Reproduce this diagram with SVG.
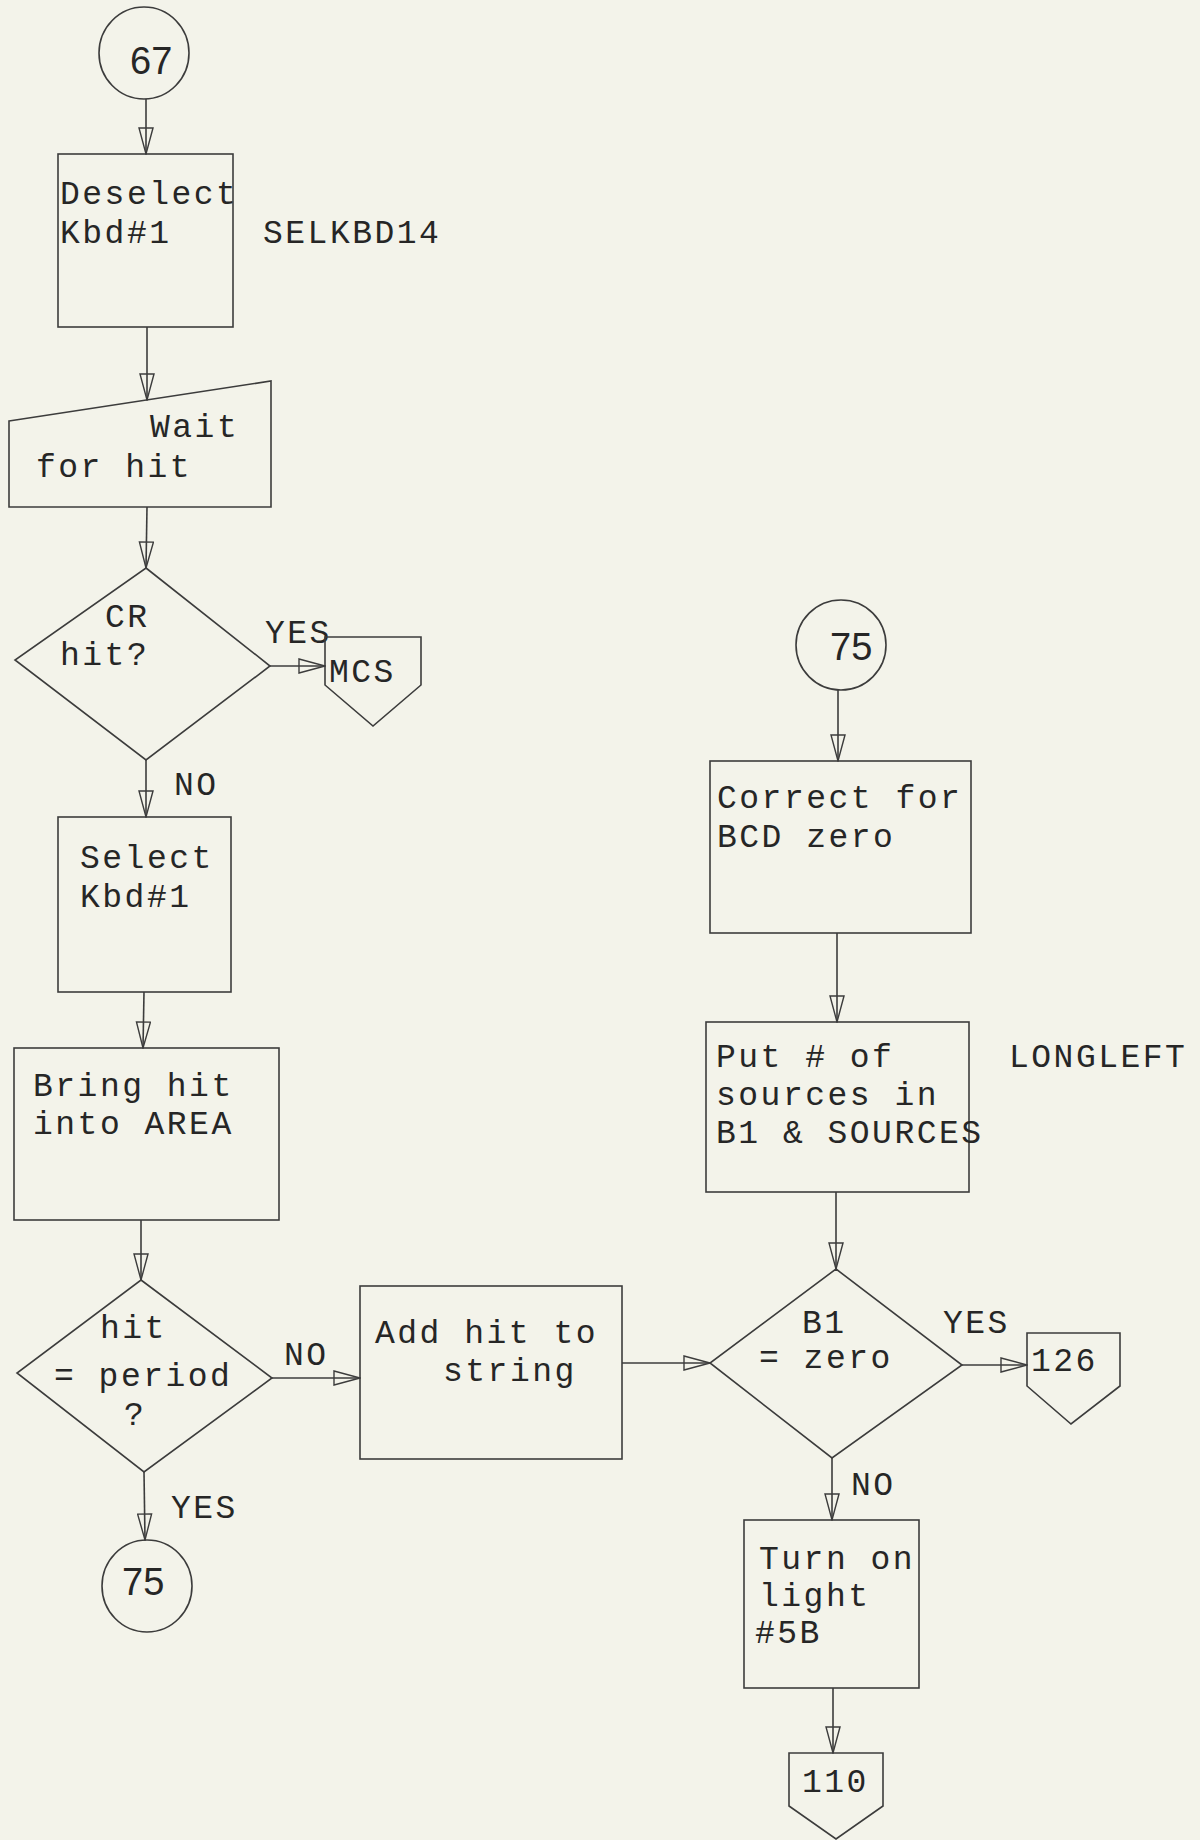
<svg xmlns="http://www.w3.org/2000/svg" width="1200" height="1840" viewBox="0 0 1200 1840">
<defs>
<style>
.shape{fill:none;stroke:#3c3c3c;stroke-width:1.6}
.conn{fill:none;stroke:#3c3c3c;stroke-width:1.6}
.t{font-family:"Liberation Mono","DejaVu Sans Mono",monospace;font-size:33px;letter-spacing:2.5px;fill:#262626}
.n{font-family:"Liberation Sans","Noto Sans",sans-serif;font-size:38px;fill:#262626}
</style>
<marker id="ah" viewBox="0 0 28 16" refX="27" refY="8" markerWidth="28" markerHeight="16" markerUnits="userSpaceOnUse" orient="auto">
<path d="M1,1 L27,8 L1,15 Z" fill="none" stroke="#3c3c3c" stroke-width="1.4"/>
</marker>
</defs>
<rect x="0" y="0" width="1200" height="1840" fill="#f3f3ea"/>

<g id="connectors">
<path class="conn" marker-end="url(#ah)" d="M146,99 L146,154"/>
<path class="conn" marker-end="url(#ah)" d="M147,327 L147,400"/>
<path class="conn" marker-end="url(#ah)" d="M147,507 L146,568"/>
<path class="conn" marker-end="url(#ah)" d="M270,666 L325,666"/>
<path class="conn" marker-end="url(#ah)" d="M146,760 L146,817"/>
<path class="conn" marker-end="url(#ah)" d="M144,992 L143,1048"/>
<path class="conn" marker-end="url(#ah)" d="M141,1220 L141,1280"/>
<path class="conn" marker-end="url(#ah)" d="M272,1378 L360,1378"/>
<path class="conn" marker-end="url(#ah)" d="M144,1472 L145,1540"/>
<path class="conn" marker-end="url(#ah)" d="M838,690 L838,761"/>
<path class="conn" marker-end="url(#ah)" d="M837,933 L837,1022"/>
<path class="conn" marker-end="url(#ah)" d="M836,1192 L836,1269"/>
<path class="conn" marker-end="url(#ah)" d="M622,1363 L710,1363"/>
<path class="conn" marker-end="url(#ah)" d="M962,1365 L1027,1365"/>
<path class="conn" marker-end="url(#ah)" d="M832,1458 L832,1520"/>
<path class="conn" marker-end="url(#ah)" d="M833,1688 L833,1753"/>
<text class="t" x="265" y="643">YES</text>
<text class="t" x="174" y="795">NO</text>
<text class="t" x="284" y="1365">NO</text>
<text class="t" x="171" y="1518">YES</text>
<text class="t" x="943" y="1333">YES</text>
<text class="t" x="851" y="1495">NO</text>
</g>

<g id="c67">
<ellipse class="shape" cx="144" cy="53" rx="45" ry="46"/>
<text class="n" x="130" y="74">67</text>
</g>

<g id="deselect">
<rect class="shape" x="58" y="154" width="175" height="173"/>
<text class="t" x="60" y="204">Deselect</text>
<text class="t" x="60" y="243">Kbd#1</text>
</g>
<text class="t" x="263" y="243">SELKBD14</text>

<g id="wait">
<path class="shape" d="M9,421 L271,381 L271,507 L9,507 Z"/>
<text class="t" x="150" y="437">Wait</text>
<text class="t" x="36" y="477">for hit</text>
</g>

<g id="crhit">
<path class="shape" d="M146,568 L270,666 L146,760 L15,660 Z"/>
<text class="t" x="105" y="627">CR</text>
<text class="t" x="60" y="665">hit?</text>
</g>

<g id="mcs">
<path class="shape" d="M325,637 L421,637 L421,685 L373,726 L325,685 Z"/>
<text class="t" x="329" y="682">MCS</text>
</g>

<g id="select">
<rect class="shape" x="58" y="817" width="173" height="175"/>
<text class="t" x="80" y="868">Select</text>
<text class="t" x="80" y="907">Kbd#1</text>
</g>

<g id="bring">
<rect class="shape" x="14" y="1048" width="265" height="172"/>
<text class="t" x="33" y="1096">Bring hit</text>
<text class="t" x="33" y="1134">into AREA</text>
</g>

<g id="period">
<path class="shape" d="M141,1280 L272,1378 L144,1472 L17,1373 Z"/>
<text class="t" x="100" y="1338">hit</text>
<text class="t" x="54" y="1386">= period</text>
<text class="t" x="124" y="1425">?</text>
</g>

<g id="addhit">
<rect class="shape" x="360" y="1286" width="262" height="173"/>
<text class="t" x="375" y="1343">Add hit to</text>
<text class="t" x="443" y="1381">string</text>
</g>

<g id="c75a">
<ellipse class="shape" cx="147" cy="1586" rx="45" ry="46"/>
<text class="n" x="122" y="1595">75</text>
</g>

<g id="c75b">
<ellipse class="shape" cx="841" cy="645" rx="45" ry="45"/>
<text class="n" x="830" y="660">75</text>
</g>

<g id="correct">
<rect class="shape" x="710" y="761" width="261" height="172"/>
<text class="t" x="717" y="808">Correct for</text>
<text class="t" x="717" y="847">BCD zero</text>
</g>

<g id="put">
<rect class="shape" x="706" y="1022" width="263" height="170"/>
<text class="t" x="716" y="1067">Put # of</text>
<text class="t" x="716" y="1105">sources in</text>
<text class="t" x="716" y="1143">B1 &amp; SOURCES</text>
</g>
<text class="t" x="1009" y="1067">LONGLEFT</text>

<g id="b1zero">
<path class="shape" d="M836,1269 L962,1365 L832,1458 L710,1363 Z"/>
<text class="t" x="802" y="1333">B1</text>
<text class="t" x="759" y="1368">= zero</text>
</g>

<g id="p126">
<path class="shape" d="M1027,1333 L1120,1333 L1120,1386 L1071,1424 L1027,1386 Z"/>
<text class="t" x="1031" y="1371">126</text>
</g>

<g id="turnon">
<rect class="shape" x="744" y="1520" width="175" height="168"/>
<text class="t" x="759" y="1569">Turn on</text>
<text class="t" x="759" y="1606">light</text>
<text class="t" x="755" y="1643">#5B</text>
</g>

<g id="p110">
<path class="shape" d="M789,1753 L883,1753 L883,1806 L836,1839 L789,1806 Z"/>
<text class="t" x="802" y="1792">110</text>
</g>
</svg>
